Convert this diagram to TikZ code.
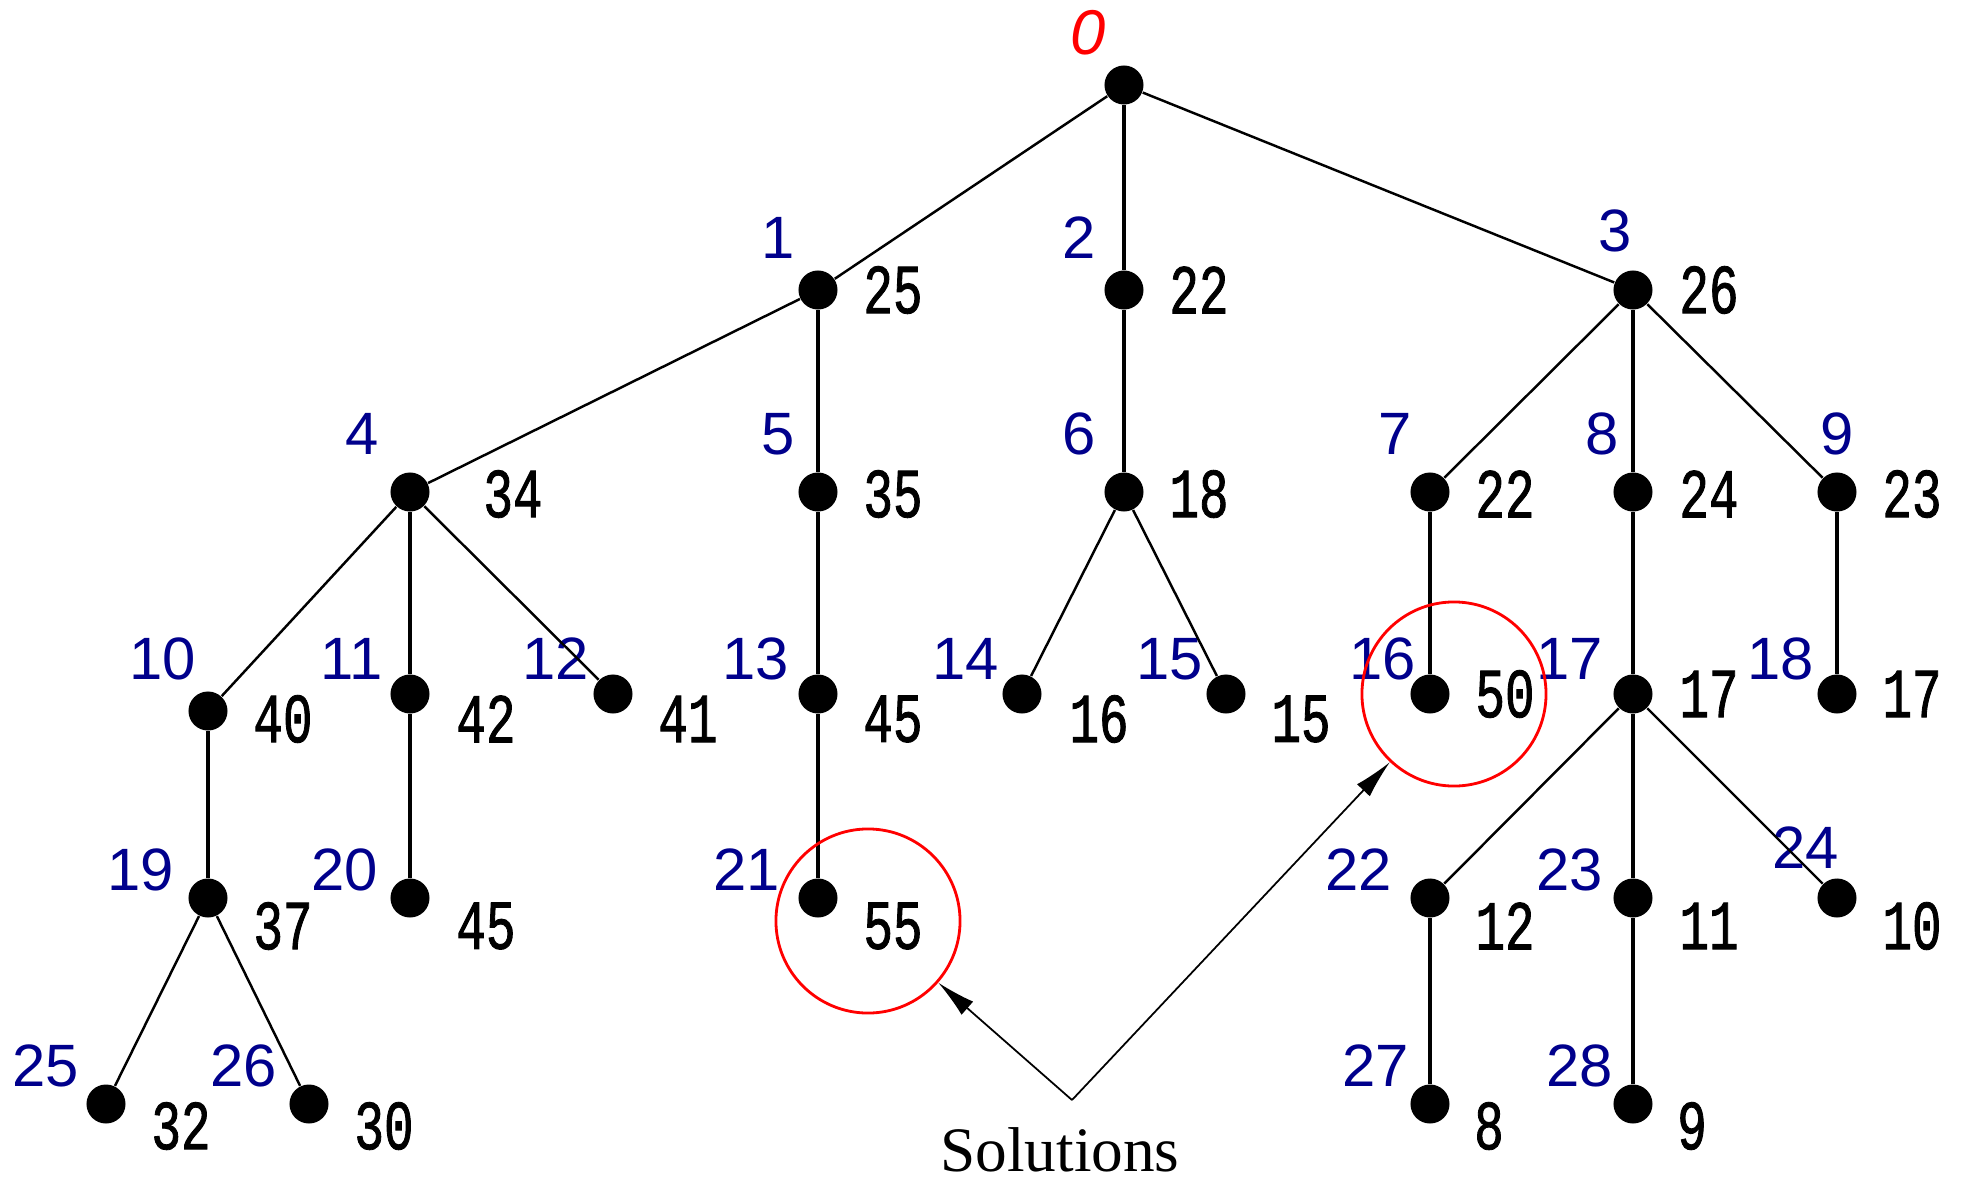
\documentclass[tikz,border=0pt]{standalone}
\usepackage{fontspec}
\usetikzlibrary{arrows.meta,positioning,calc}
\newfontfamily\idxfont{Liberation Sans}
\newfontfamily\valfont[FakeStretch=0.7,FakeBold=1.2]{Liberation Mono}
\newfontfamily\solfont{Liberation Serif}
\definecolor{idxblue}{RGB}{0,0,140}

\begin{document}
\begin{tikzpicture}[x=0.01cm,y=-0.01cm,
  dot/.style={circle,fill=black,inner sep=0pt,minimum size=0.39cm},
  vlink/.style={line width=1.1pt},
  dlink/.style={line width=0.7pt},
  idx/.style={text=idxblue,font=\idxfont\fontsize{17}{17}\selectfont,inner sep=0pt},
  val/.style={font=\valfont\fontsize{20}{20}\selectfont,inner sep=0pt},
  ring/.style={circle,draw=red,line width=0.8pt,minimum size=1.84cm,inner sep=0pt},
  arr/.style={line width=0.5pt,-{Latex[length=11pt,width=5pt]}}]
  \useasboundingbox (0,0) rectangle (1962,1184);

  % Tree nodes
  \foreach \n/\x/\y in {0/1124/85, 1/818/290, 2/1124/290, 3/1633/290,
      4/410/492, 5/818/492, 6/1124/492, 7/1430/492, 8/1633/492, 9/1837/492,
      10/208/711, 11/410/694, 12/613/694, 13/818/694, 14/1022/694,
      15/1226/694, 16/1430/694, 17/1633/694, 18/1837/694,
      19/208/898, 20/410/898, 21/818/898, 22/1430/898, 23/1633/898, 24/1837/898,
      25/106/1104, 26/309/1104, 27/1430/1104, 28/1633/1104} {
    \node[dot] (n\n) at (\x,\y) {};
  }

  % Order labels (blue) and costs (black)
  \foreach \n/\ix/\iy/\cost/\cx/\cy in {1/778/238/25/893/290, 2/1079/238/22/1199/290,
      3/1615/231/26/1709/290, 4/362/434/34/513/494, 5/778/434/35/893/494,
      6/1079/434/18/1199/494, 7/1395/434/22/1505/494, 8/1602/434/24/1709/494,
      9/1837/434/23/1912/494, 10/163/659/40/283/719, 11/352/659/42/486/719,
      12/556/659/41/688/719, 13/756/659/45/893/719, 14/966/659/16/1099/719,
      15/1170/659/15/1301/719, 16/1383/659/50/1505/694, 17/1570/659/17/1709/694,
      18/1781/659/17/1912/694, 19/141/870/37/283/926, 20/345/870/45/486/926,
      21/747/870/55/893/926, 22/1359/870/12/1505/926, 23/1570/870/11/1709/926,
      24/1806/848/10/1912/926, 25/46/1066/32/181/1126, 26/244/1066/30/384/1126,
      27/1376/1066/8/1489/1126, 28/1580/1066/9/1692/1126} {
    \node[idx] (i\n) at (\ix,\iy) {\n};
    \node[val] (v\n) at (\cx,\cy) {\cost};
  }
  \node[text=red,font=\idxfont\itshape\fontsize{18}{18}\selectfont,inner sep=0pt] (i0) at (1088,33) {0};

  % Edges
  \foreach \a/\b in {0/2, 1/5, 2/6, 3/8, 4/11, 5/13, 7/16, 8/17, 9/18,
      10/19, 11/20, 13/21, 17/23, 22/27, 23/28}
    \draw[vlink] (n\a) -- (n\b);
  \foreach \a/\b in {0/1, 0/3, 1/4, 3/7, 3/9, 4/10, 4/12, 6/14, 6/15,
      17/22, 17/24, 19/25, 19/26}
    \draw[dlink] (n\a) -- (n\b);

  % Solutions
  \node[ring] (c21) at (868,921) {};
  \node[ring] (c16) at (1454,694) {};
  \node[font=\solfont\fontsize{18}{18}\selectfont,inner sep=0pt] (sol) at (1060,1150) {Solutions};
  \coordinate (apex) at (1072,1100);
  \draw[arr] (apex) -- (c21);
  \draw[arr] (apex) -- (c16);
\end{tikzpicture}
\end{document}
